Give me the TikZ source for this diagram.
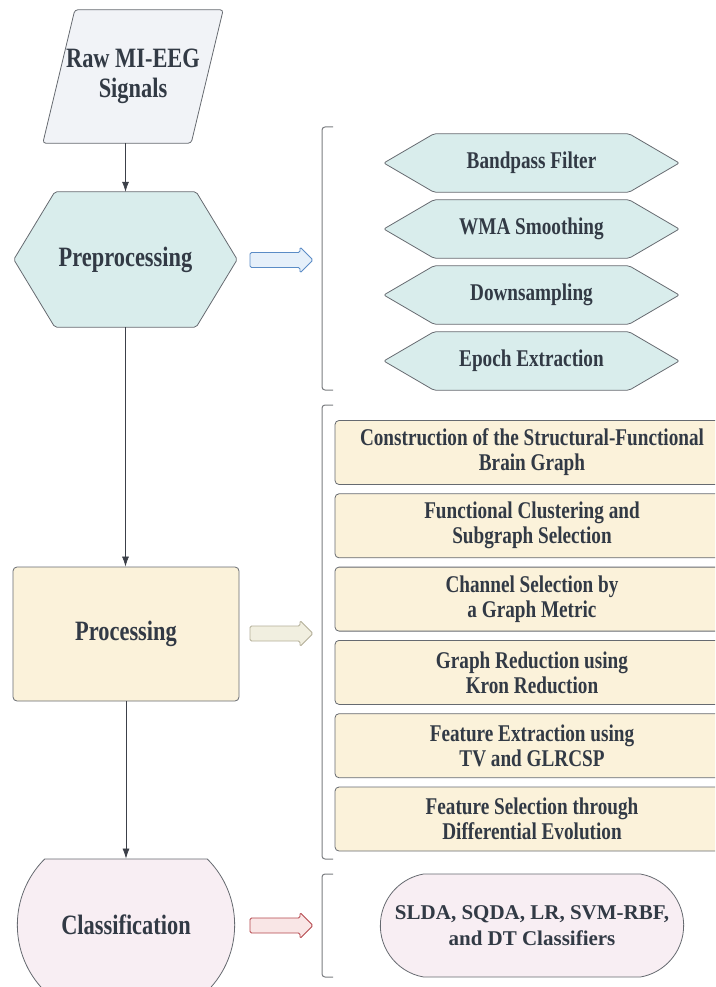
\documentclass[tikz,border=0pt]{standalone}
\usepackage{fontspec}
\setmainfont[FakeStretch=0.8]{Liberation Serif}
\newfontfamily\plainserif{Liberation Serif}
\usetikzlibrary{shapes.misc,arrows.meta,backgrounds}

\definecolor{inktext}{HTML}{323A45}
\definecolor{edgegray}{HTML}{666A70}
\definecolor{flowgray}{HTML}{3C4049}
\definecolor{brackgray}{HTML}{7A7C80}
\definecolor{rawfill}{HTML}{F1F3F7}
\definecolor{cyanfill}{HTML}{D9EDEC}
\definecolor{beigefill}{HTML}{FBF2DA}
\definecolor{pinkfill}{HTML}{F8EEF3}
\definecolor{bluearrowline}{HTML}{5B8CC6}
\definecolor{bluearrowfill}{HTML}{E6F0FA}
\definecolor{beigearrowline}{HTML}{B3AE98}
\definecolor{beigearrowfill}{HTML}{F1EFE0}
\definecolor{redarrowline}{HTML}{B4474C}
\definecolor{redarrowfill}{HTML}{F9E6E6}

\tikzset{
  label text/.style={font=\bfseries\fontsize{28}{30}\selectfont, text=inktext, align=center},
  sub text/.style={font=\bfseries\fontsize{24}{25}\selectfont, text=inktext, align=center},
  edge/.style={draw=edgegray, line width=0.8pt},
  box/.style={edge, rounded corners=4pt},
  flow/.style={-{Latex[length=10pt,width=7pt]}, draw=flowgray, line width=0.7pt},
  bracket/.style={draw=brackgray, line width=1pt, rounded corners=3pt},
}

\begin{document}
\begin{tikzpicture}[x=1pt,y=-1pt]
  \useasboundingbox (0,0) rectangle (715,987);
  \clip (0,0) rectangle (715,987);

  % main column
  \node[label text, minimum width=148pt, minimum height=133pt] (raw) at (133,76.5) {Raw MI-EEG\\Signals};
  \node[label text, minimum width=141pt, minimum height=135pt] (pre) at (125.5,259.5) {Preprocessing};
  \node[label text, box, fill=beigefill, minimum width=226pt, minimum height=134pt] (proc) at (126,634) {Processing};
  \node[label text, edge, fill=pinkfill, rounded rectangle, rounded rectangle arc length=90,
        minimum width=224pt, minimum height=132pt] (cls) at (126,925) {Classification};

  % preprocessing steps
  \foreach \nm/\txt/\yy in {bp/Bandpass Filter/163, wma/WMA Smoothing/229, ds/Downsampling/295, ep/Epoch Extraction/361}
    \node[sub text, minimum width=195pt, minimum height=58pt] (\nm) at (531.5,\yy) {\txt};

  % processing steps
  \foreach \txt [count=\i] in {{Construction of the Structural-Functional\\Brain Graph},
      {Functional Clustering and\\Subgraph Selection}, {Channel Selection by\\a Graph Metric},
      {Graph Reduction using\\Kron Reduction}, {Feature Extraction using\\TV and GLRCSP},
      {Feature Selection through\\Differential Evolution}}
    \node[sub text, box, fill=beigefill, minimum width=394pt, minimum height=64pt] (stage\i) at (532,{452.5+73.3*(\i-1)}) {\txt};

  \node[edge, fill=pinkfill, rounded rectangle, rounded rectangle arc length=160,
        font=\plainserif\bfseries\fontsize{21}{26}\selectfont, text=inktext, align=center,
        minimum width=310pt, minimum height=103pt] (clf) at (532,925.5) {SLDA, SQDA, LR, SVM-RBF,\\and DT Classifiers};

  % outlines behind the text
  \begin{scope}[on background layer]
    \draw[edge, fill=rawfill, rounded corners=3pt] ([xshift=-16pt]raw.south west) -- ([xshift=-16pt]raw.south east)
      -- ([xshift=16pt]raw.north east) -- ([xshift=16pt]raw.north west) -- cycle;
    \draw[edge, fill=cyanfill, rounded corners=2pt] ([xshift=-41pt]pre.west) -- (pre.north west) -- (pre.north east)
      -- ([xshift=41pt]pre.east) -- (pre.south east) -- (pre.south west) -- cycle;
    \foreach \nm in {bp,wma,ds,ep}
      \draw[edge, fill=cyanfill, rounded corners=2pt] ([xshift=-50pt]\nm.west) -- (\nm.north west) -- (\nm.north east)
        -- ([xshift=50pt]\nm.east) -- (\nm.south east) -- (\nm.south west) -- cycle;
  \end{scope}

  % flow
  \draw[flow] (raw.south -| pre.north) -- (pre.north);
  \draw[flow] (pre.south) -- (pre.south |- proc.north);
  \draw[flow] (proc.south) -- (cls.north);

  % block arrows
  \foreach \yy/\ln/\fl in {260/bluearrowline/bluearrowfill, 633.5/beigearrowline/beigearrowfill, 925.5/redarrowline/redarrowfill}
    \draw[draw=\ln, fill=\fl, line width=0.9pt, rounded corners=1.5pt]
      (250,\yy-7.5) -- (300,\yy-7.5) -- (300,\yy-13) -- (313,\yy) -- (300,\yy+13) -- (300,\yy+7.5) -- (250,\yy+7.5) -- cycle;

  % brackets
  \draw[bracket] (333,127) -- (322,127) -- (322,390) -- (333,390);
  \draw[bracket] (333,405) -- (322,405) -- (322,859) -- (333,859);
  \draw[bracket] (333,874) -- (322,874) -- (322,977) -- (333,977);
\end{tikzpicture}
\end{document}
